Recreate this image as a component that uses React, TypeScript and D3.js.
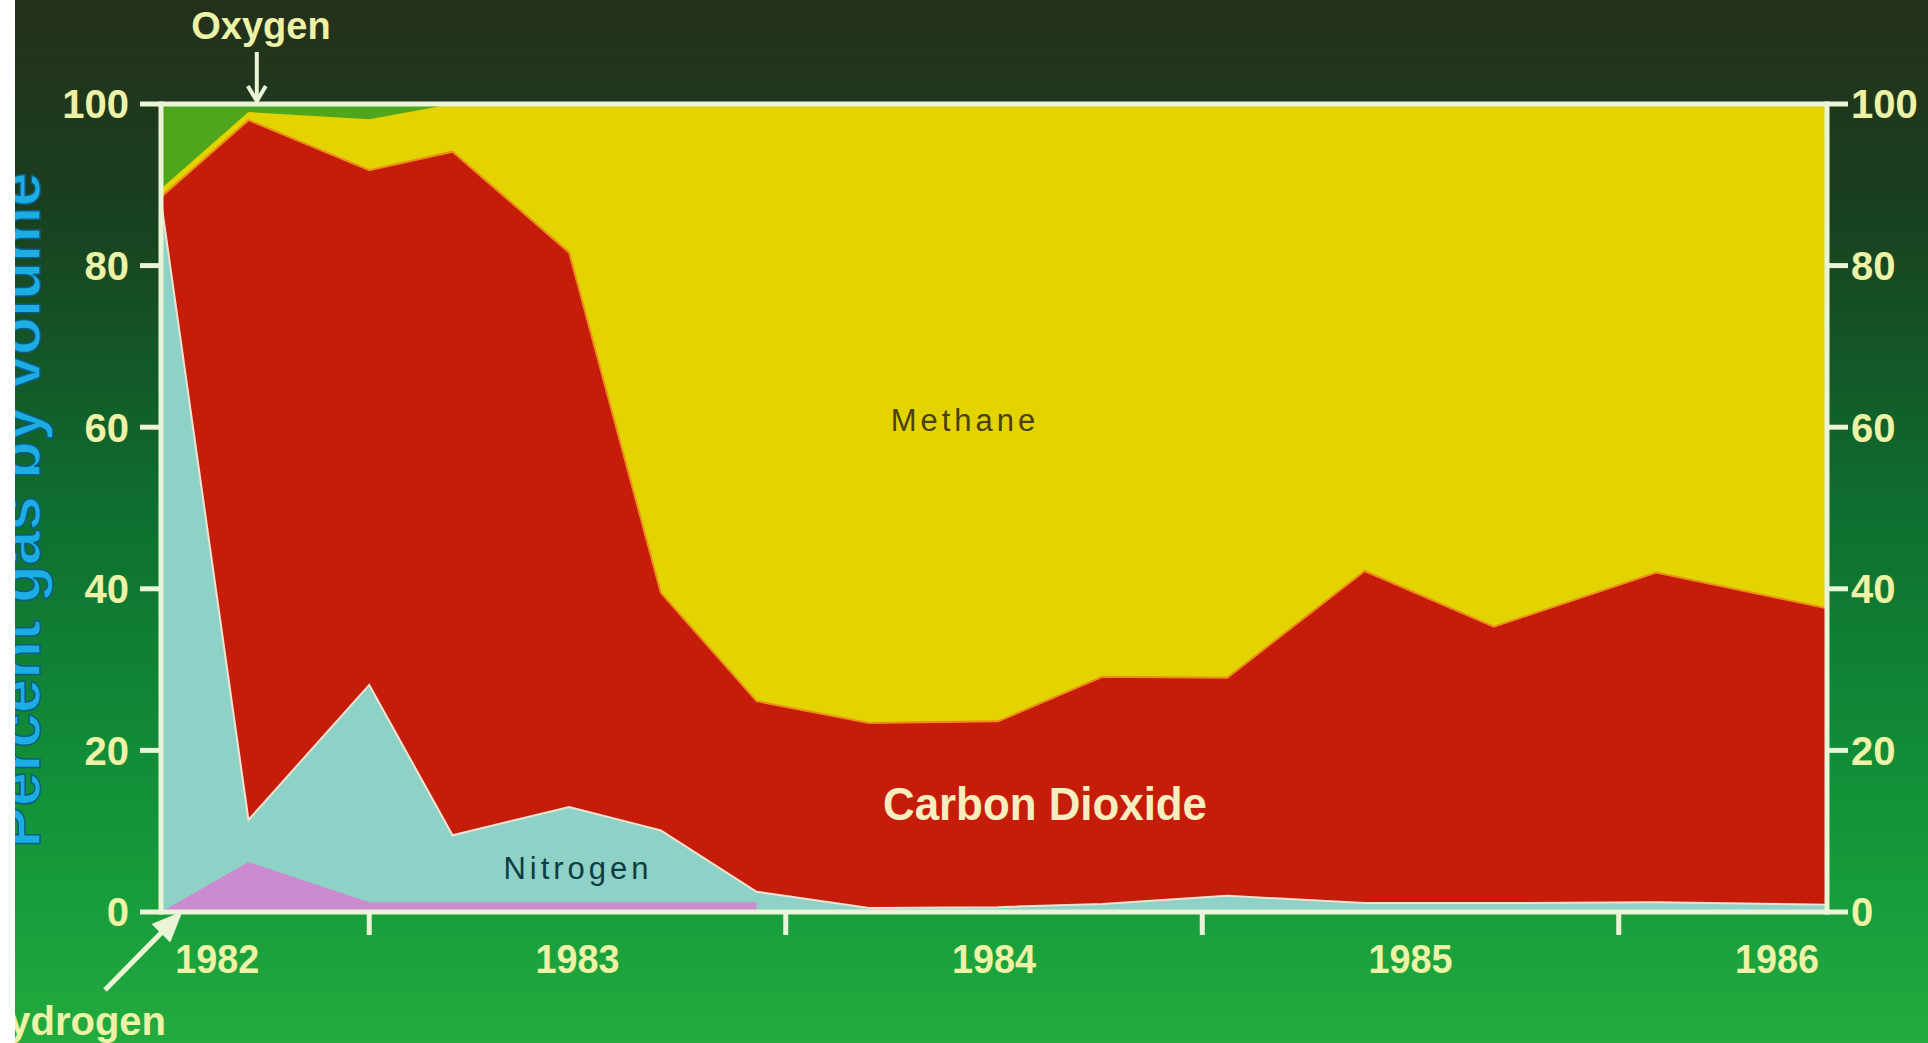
import React from "react";
import * as d3 from "d3";

// ---- data (sampling dates in decimal years, percent gas by volume) ----
const dates = [1982.5, 1982.71, 1983.0, 1983.2, 1983.48, 1983.7, 1983.93, 1984.2, 1984.51, 1984.76, 1985.06, 1985.39, 1985.7, 1986.09, 1986.5];
const hydrogen: (number | null)[] = [0, 6.2, 1.2, 1.2, 1.2, 1.2, 1.2, null, null, null, null, null, null, null, null];
const nitrogen = [88.0, 5.2, 26.9, 8.3, 11.8, 8.9, 1.3, 0.5, 0.6, 1.0, 2.0, 1.1, 1.1, 1.2, 0.9];
const carbonDioxide = [0.5, 86.6, 63.7, 84.6, 68.6, 29.4, 23.6, 22.9, 23.0, 28.1, 27.0, 41.1, 34.2, 40.8, 36.7];
const methane = [1.0, 1.0, 6.3, 5.9, 18.4, 60.5, 73.9, 76.6, 76.4, 70.9, 71.0, 57.8, 64.7, 58.0, 62.4];
const oxygen = [10.5, 1.0, 1.9, 0, 0, 0, 0, 0, 0, 0, 0, 0, 0, 0, 0];

const yearTicks = [1983, 1984, 1985, 1986];
const yearLabels = ["1982", "1983", "1984", "1985", "1986"];
const yearLabelAt = [1982.635, 1983.5, 1984.5, 1985.5, 1986.38];
const yTicks = [0, 20, 40, 60, 80, 100];

const keys = ["hydrogen", "nitrogen", "carbonDioxide", "methane", "oxygen"];
const colors: Record<string, string> = {
  hydrogen: "#cc8ad0",
  nitrogen: "#8ed1c6",
  carbonDioxide: "#c61d0a",
  methane: "#e3d400",
  oxygen: "#4fa61c",
};

const W = 1928;
const H = 1043;

export default function App() {
  const x = d3.scaleLinear().domain([1982.5, 1986.5]).range([161, 1827]);
  const y = d3.scaleLinear().domain([0, 100]).range([912, 104]);

  const rows = dates.map((d, i) => ({
    date: d,
    hydrogen: hydrogen[i] ?? 0,
    nitrogen: nitrogen[i],
    carbonDioxide: carbonDioxide[i],
    methane: methane[i],
    oxygen: oxygen[i],
  }));
  const stacked = d3.stack<any>().keys(keys)(rows);

  // each layer painted from zero to its cumulative top, top layer first
  const areaFromZero = (defined?: (i: number) => boolean) =>
    d3
      .area<any>()
      .x((p: any) => x(p.data.date))
      .y0(y(0))
      .y1((p: any) => y(p[1]))
      .defined((_p: any, i: number) => (defined ? defined(i) : true));

  const topLine = d3
    .line<any>()
    .x((p: any) => x(p.data.date))
    .y((p: any) => y(p[1]));

  const layersTopFirst = [...stacked].reverse();

  const cream = "#eaf4d6";
  const labelYellow = "#eef2a6";
  const font = "'Liberation Sans', Arial, Helvetica, sans-serif";

  // arrows
  const oxTipX = x(1982.73);
  const oxTipY = y(100) - 3;
  const hyTip = { x: x(1982.55), y: y(0) };
  const hyTail = { x: 105, y: 990 };
  const ang = Math.atan2(hyTip.y - hyTail.y, hyTip.x - hyTail.x);
  const headLen = 32;
  const spread = 0.4;
  const hb1 = { x: hyTip.x - headLen * Math.cos(ang - spread), y: hyTip.y - headLen * Math.sin(ang - spread) };
  const hb2 = { x: hyTip.x - headLen * Math.cos(ang + spread), y: hyTip.y - headLen * Math.sin(ang + spread) };

  return (
    <svg
      width={W}
      height={H}
      style={{ position: "absolute", left: 0, top: 0, display: "block" }}
      fontFamily={font}
    >
      <defs>
        <linearGradient id="bg" x1="0" y1="0" x2="0" y2="1">
          <stop offset="0" stopColor="#25301a" />
          <stop offset="0.2" stopColor="#19401f" />
          <stop offset="0.5" stopColor="#0e7030" />
          <stop offset="0.8" stopColor="#13963a" />
          <stop offset="1" stopColor="#22ab3e" />
        </linearGradient>
        <clipPath id="plot">
          <rect x={x(1982.5)} y={y(100)} width={x(1986.5) - x(1982.5)} height={y(0) - y(100)} />
        </clipPath>
      </defs>
      <rect x={0} y={0} width={W} height={H} fill="url(#bg)" />

      <g clipPath="url(#plot)">
        {layersTopFirst.map((layer) => (
          <path
            key={layer.key}
            d={
              areaFromZero(layer.key === "hydrogen" ? (i) => hydrogen[i] != null : undefined)(layer as any) || ""
            }
            fill={colors[layer.key]}
          />
        ))}
        {/* thin boundary lines */}
        <path d={topLine(stacked[2] as any) || ""} fill="none" stroke="#ec8c1c" strokeWidth={2} />
        <path d={topLine(stacked[1] as any) || ""} fill="none" stroke="#f3e2d2" strokeWidth={2} />
      </g>

      {/* frame */}
      <g stroke={cream} strokeWidth={5} fill="none" strokeLinecap="butt">
        <line x1={x(1982.5)} x2={x(1986.5)} y1={y(100)} y2={y(100)} />
        <line x1={x(1982.5)} x2={x(1986.5)} y1={y(0)} y2={y(0)} />
        <line x1={x(1982.5)} x2={x(1982.5)} y1={y(100) - 2.5} y2={y(0) + 2.5} />
        <line x1={x(1986.5)} x2={x(1986.5)} y1={y(100) - 2.5} y2={y(0) + 2.5} />
        {yTicks.map((t) => (
          <g key={t}>
            <line x1={x(1982.5) - 21} x2={x(1982.5)} y1={y(t)} y2={y(t)} />
            <line x1={x(1986.5)} x2={x(1986.5) + 21} y1={y(t)} y2={y(t)} />
          </g>
        ))}
        {yearTicks.map((t) => (
          <line key={t} x1={x(t)} x2={x(t)} y1={y(0)} y2={y(0) + 23} />
        ))}
      </g>

      {/* tick labels */}
      <g fill={labelYellow} fontWeight="bold" fontSize={40}>
        {yTicks.map((t) => (
          <text key={"l" + t} x={x(1982.5) - 32} y={y(t)} dy="0.36em" textAnchor="end">
            {t}
          </text>
        ))}
        {yTicks.map((t) => (
          <text key={"r" + t} x={x(1986.5) + 24} y={y(t)} dy="0.36em" textAnchor="start">
            {t}
          </text>
        ))}
        {yearLabels.map((lab, i) => (
          <text
            key={lab}
            x={x(yearLabelAt[i]) - 42}
            y={973}
            textAnchor="start"
            textLength={84}
            lengthAdjust="spacingAndGlyphs"
          >
            {lab}
          </text>
        ))}
      </g>

      {/* y axis title */}
      <text
        transform="translate(40,510) rotate(-90)"
        textAnchor="middle"
        fontSize={62}
        fontWeight="bold"
        fill="#1cade2"
        stroke="#0b5a88"
        strokeWidth={1.5}
      >
        Percent gas by volume
      </text>

      {/* series labels */}
      <text x={965} y={431} textAnchor="middle" fontSize={31} letterSpacing={4} fill="#4a4010">
        Methane
      </text>
      <text x={578} y={879} textAnchor="middle" fontSize={31} letterSpacing={4} fill="#0d3c44">
        Nitrogen
      </text>
      <text
        x={1045}
        y={820}
        textAnchor="middle"
        fontSize={46}
        fontWeight="bold"
        fill="#f6eebe"
        textLength={324}
        lengthAdjust="spacingAndGlyphs"
      >
        Carbon  Dioxide
      </text>

      {/* Oxygen annotation */}
      <text x={261} y={39} textAnchor="middle" fontSize={38} fontWeight="bold" fill={labelYellow}>
        Oxygen
      </text>
      <g stroke={cream} strokeWidth={4} fill="none">
        <line x1={oxTipX} x2={oxTipX} y1={52} y2={oxTipY} />
        <polyline points={`${oxTipX - 9},${oxTipY - 15} ${oxTipX},${oxTipY} ${oxTipX + 9},${oxTipY - 15}`} />
      </g>

      {/* Hydrogen annotation */}
      <g stroke={cream} strokeWidth={5} fill={cream}>
        <line x1={hyTail.x} y1={hyTail.y} x2={hyTip.x - 10 * Math.cos(ang)} y2={hyTip.y - 10 * Math.sin(ang)} />
        <polygon points={`${hyTip.x},${hyTip.y} ${hb1.x},${hb1.y} ${hb2.x},${hb2.y}`} strokeWidth={1} />
      </g>
      <text x={166} y={1035} textAnchor="end" fontSize={40} fontWeight="bold" fill={labelYellow}>
        Hydrogen
      </text>

      {/* white strip at the left edge of the slide */}
      <rect x={0} y={0} width={15} height={H} fill="#ffffff" />
    </svg>
  );
}
